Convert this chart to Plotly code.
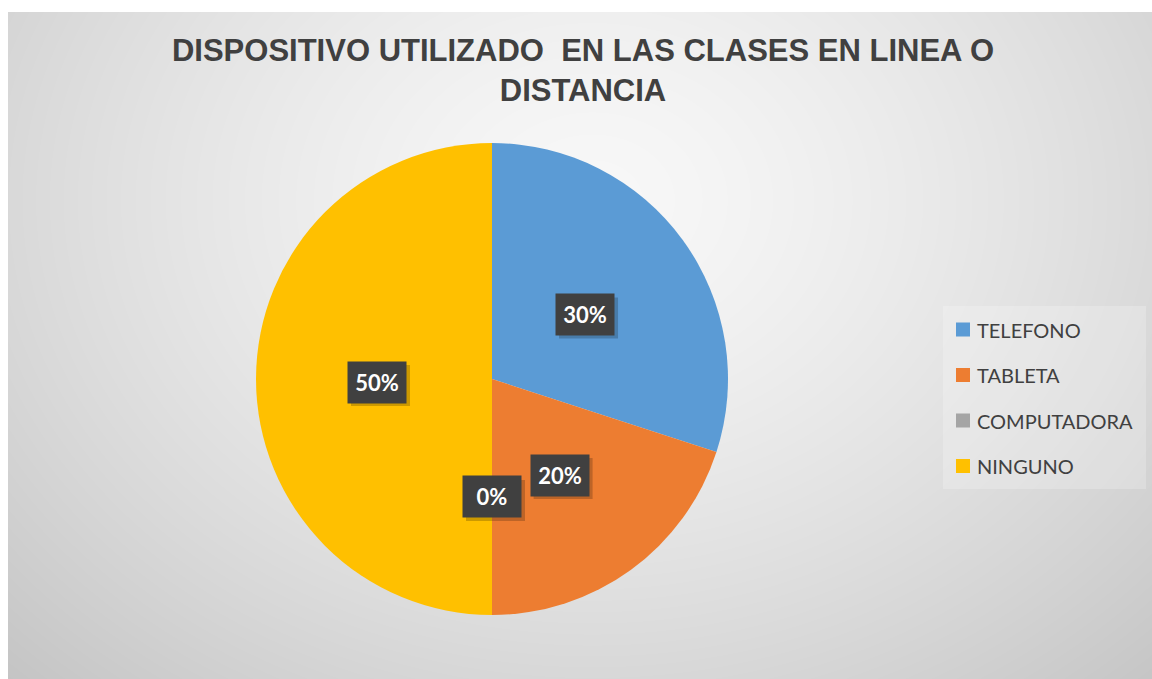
import base64, struct, zlib
import numpy as np
import plotly.graph_objects as go

# ---------------- data ----------------
categories = ["TELEFONO", "TABLETA", "COMPUTADORA", "NINGUNO"]
values = [30, 20, 0, 50]
colors = ["#5B9BD5", "#ED7D31", "#A5A5A5", "#FFC000"]
title_text = "DISPOSITIVO UTILIZADO  EN LAS CLASES EN LINEA O<br>DISTANCIA"

# ---------------- page geometry ----------------
W, H = 1152, 679
OFF = 0                     # body margin removed via post_script
X0, Y0 = 8, 12              # chart area start (page px)
CX, CY, R = 492, 379, 236   # pie centre & radius (page px)


def px(x):
    return (x - OFF) / W


def py(y):
    return 1 - (y - OFF) / H


# ---------------- radial gradient background (generated PNG) ----------------
gw, gh = W - X0, H - Y0
xs = np.arange(gw)[None, :] + X0
ys = np.arange(gh)[:, None] + Y0
d = np.sqrt(((xs - 592) / 700.0) ** 2 + ((ys - 200) / 560.0) ** 2)
g = np.clip(248 - 40 * d ** 1.4, 0, 255).astype(np.uint8)


def png_gray(arr):
    h, w = arr.shape
    raw = b"".join(b"\x00" + arr[r].tobytes() for r in range(h))

    def chunk(t, dat):
        c = struct.pack(">I", len(dat)) + t + dat
        return c + struct.pack(">I", zlib.crc32(t + dat) & 0xFFFFFFFF)

    return (b"\x89PNG\r\n\x1a\n" + chunk(b"IHDR", struct.pack(">IIBBBBB", w, h, 8, 0, 0, 0, 0))
            + chunk(b"IDAT", zlib.compress(raw, 9)) + chunk(b"IEND", b""))


bg_src = "data:image/png;base64," + base64.b64encode(png_gray(g)).decode()

fig = go.Figure()
fig.add_trace(go.Pie(
    labels=categories,
    values=values,
    marker=dict(colors=colors, line=dict(width=0)),
    sort=False,
    direction="clockwise",
    rotation=0,
    textinfo="none",
    showlegend=False,
    domain=dict(x=[px(CX - R), px(CX + R)], y=[py(CY + R), py(CY - R)]),
))

annotations = []
shapes = []

# ---------------- data labels (dark boxes) ----------------
total = sum(values)
cum = 0.0
RL = 115
for v in values:
    mid = (cum + v / 2.0) / total
    cum += v
    th = 2 * np.pi * mid
    lx = CX + RL * np.sin(th)
    ly = CY - RL * np.cos(th) + 3
    txt = f"<b>{round(100 * v / total)}%</b>"
    # drop shadow of the label box
    shapes.append(dict(type="rect", xref="paper", yref="paper",
                       x0=px(lx - 26), x1=px(lx + 33), y0=py(ly + 24), y1=py(ly - 17),
                       fillcolor="rgba(0,0,0,0.2)", line=dict(width=0), layer="above"))
    annotations.append(dict(
        x=px(lx), y=py(ly), xref="paper", yref="paper", text=txt, showarrow=False,
        font=dict(family="Lato, Noto Sans", size=22, color="white"),
        bgcolor="#404040", borderpad=6, width=46, height=29,
        xanchor="center", yanchor="middle"))

# ---------------- manual legend ----------------
shapes.append(dict(type="rect", xref="paper", yref="paper",
                   x0=px(943), x1=px(1146), y0=py(489), y1=py(306),
                   fillcolor="rgba(255,255,255,0.22)", line=dict(width=0), layer="below"))
item_y = [329.5, 375, 420.5, 466]
for cat, col, iy in zip(categories, colors, item_y):
    shapes.append(dict(type="rect", xref="paper", yref="paper",
                       x0=px(956), x1=px(970), y0=py(iy + 7), y1=py(iy - 7),
                       fillcolor=col, line=dict(width=0)))
    annotations.append(dict(
        x=px(975), y=py(iy), xref="paper", yref="paper", text=cat, showarrow=False,
        font=dict(family="Lato, Noto Sans", size=20, color="#404040"),
        xanchor="left", yanchor="middle"))

fig.update_layout(
    width=W, height=H,
    margin=dict(l=0, r=0, t=0, b=0),
    paper_bgcolor="white",
    plot_bgcolor="rgba(0,0,0,0)",
    title=dict(text=f"<b>{title_text}</b>", x=px(583), xanchor="center",
               y=py(61), yanchor="middle", yref="paper",
               font=dict(family="Liberation Sans, Arial", size=31, color="#404040")),
    images=[dict(source=bg_src, xref="paper", yref="paper", x=px(X0), y=py(Y0),
                 sizex=gw / W, sizey=gh / H, xanchor="left", yanchor="top",
                 sizing="stretch", layer="below")],
    shapes=shapes,
    annotations=annotations,
    showlegend=False,
)

fig.write_html(
    "out.html",
    config={"displayModeBar": False},
    post_script="document.body.style.margin='0';document.body.style.overflow='hidden';"
                "document.documentElement.style.overflow='hidden';",
)
